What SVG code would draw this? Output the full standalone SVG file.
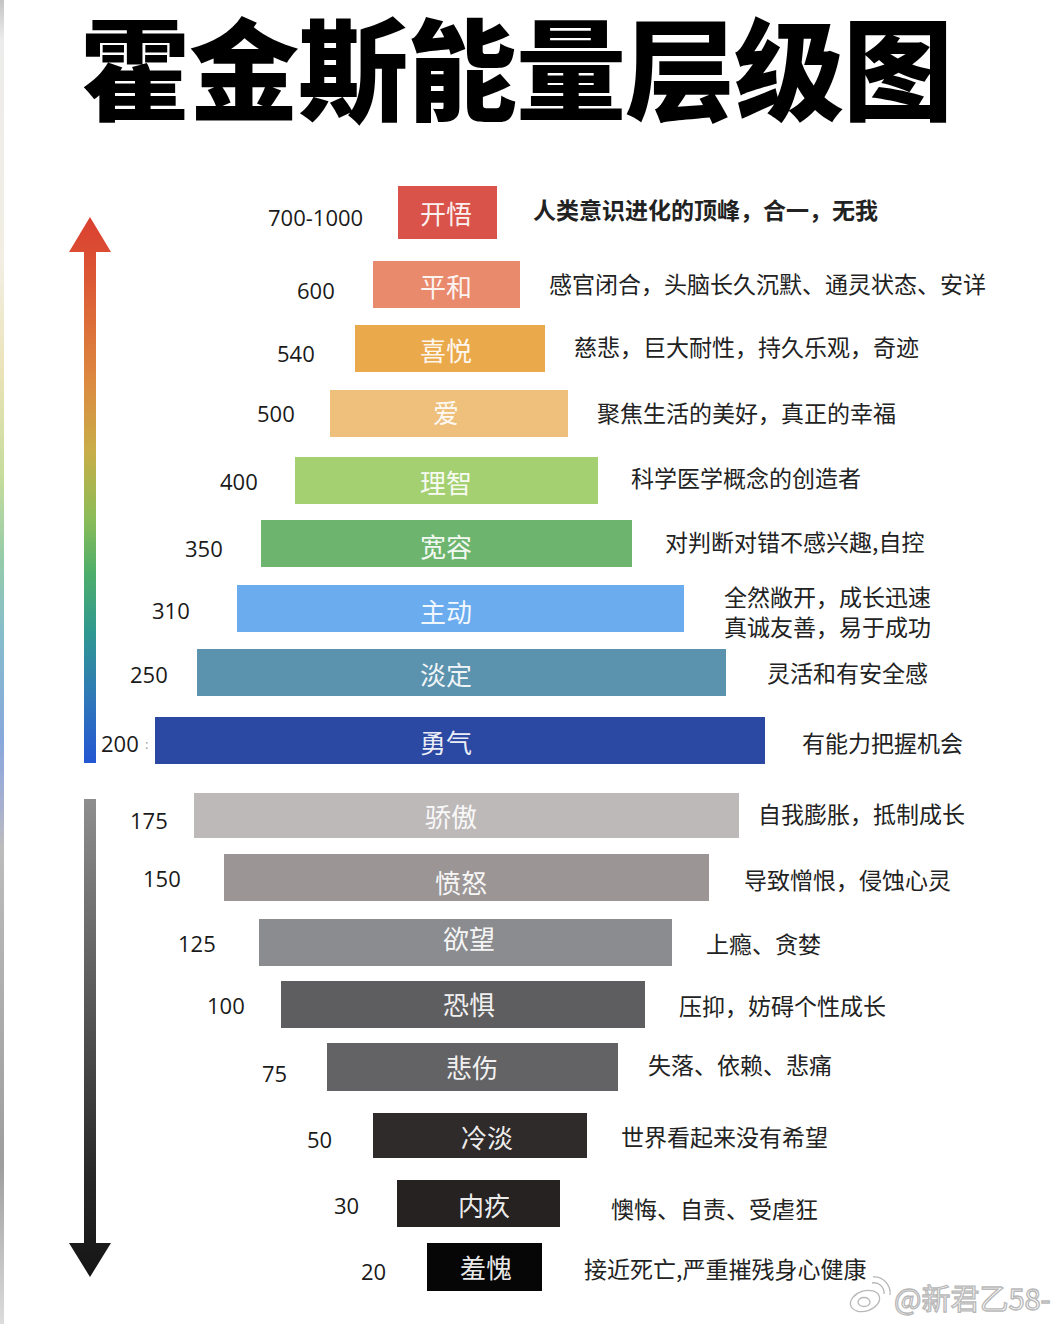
<svg xmlns="http://www.w3.org/2000/svg" width="1058" height="1324" viewBox="0 0 1058 1324">
<defs>
<linearGradient id="gUp" x1="0" y1="218" x2="0" y2="763" gradientUnits="userSpaceOnUse">
<stop offset="0" stop-color="#da3f30"/>
<stop offset="0.12" stop-color="#dc5a35"/>
<stop offset="0.3" stop-color="#dc8a40"/>
<stop offset="0.43" stop-color="#c8ae48"/>
<stop offset="0.55" stop-color="#8cbc58"/>
<stop offset="0.65" stop-color="#4fae6a"/>
<stop offset="0.76" stop-color="#2f9890"/>
<stop offset="0.88" stop-color="#2f78b8"/>
<stop offset="1" stop-color="#2456d2"/>
</linearGradient>
<linearGradient id="gDown" x1="0" y1="799" x2="0" y2="1277" gradientUnits="userSpaceOnUse">
<stop offset="0" stop-color="#8e8e8e"/>
<stop offset="0.45" stop-color="#555"/>
<stop offset="0.8" stop-color="#262626"/>
<stop offset="1" stop-color="#151515"/>
</linearGradient>
<linearGradient id="gEdge" x1="0" y1="0" x2="0" y2="1324" gradientUnits="userSpaceOnUse">
<stop offset="0" stop-color="#c4c4c4"/>
<stop offset="0.03" stop-color="#ececec"/>
<stop offset="0.2" stop-color="#f2eee2"/>
<stop offset="0.28" stop-color="#ebe3b8"/>
<stop offset="0.36" stop-color="#c6dc9c"/>
<stop offset="0.42" stop-color="#96cca8"/>
<stop offset="0.48" stop-color="#86bccc"/>
<stop offset="0.56" stop-color="#88a8dc"/>
<stop offset="0.61" stop-color="#a8b0d0"/>
<stop offset="0.64" stop-color="#bcbcbc"/>
<stop offset="0.88" stop-color="#9e9e9e"/>
<stop offset="1" stop-color="#dcdcdc"/>
</linearGradient>
<style>
.num{font-family:"Open Sans","Noto Sans",sans-serif;font-size:22px;fill:#1a1a1a}
.lbl{font-family:"Noto Sans CJK SC",sans-serif;font-size:26px;fill:#ffffff;fill-opacity:0.93;text-anchor:middle;dominant-baseline:central}
.desc{font-family:"Noto Sans CJK SC",sans-serif;font-size:23px;fill:#222;dominant-baseline:central}
.title{font-family:"Noto Sans CJK SC",sans-serif;font-size:110px;font-weight:900;fill:#000;letter-spacing:-1px}
.wm{font-family:"Noto Sans CJK SC",sans-serif;font-size:29px;fill:#fff;stroke:#b8b8b8;stroke-width:1.3;dominant-baseline:central}
</style>
</defs>
<rect width="1058" height="1324" fill="#ffffff"/>
<rect x="0" y="0" width="4" height="1324" fill="url(#gEdge)"/>
<text class="title" x="80" y="112">霍金斯能量层级图</text>

<g id="connectors">
<path id="arrow-up" d="M90,217 L111,252 L96,252 L96,763 L84,763 L84,252 L69,252 Z" fill="url(#gUp)"/>
<path id="arrow-down" d="M84,799 L96,799 L96,1243 L111,1243 L90,1277 L69,1243 L84,1243 Z" fill="url(#gDown)"/>
</g>

<g id="n-kaiwu"><rect x="398" y="186" width="99" height="53" fill="#d9534a"/><text class="lbl" x="446" y="212">开悟</text><text class="num" x="268" y="226">700-1000</text><text class="desc" x="533" y="209" font-weight="700">人类意识进化的顶峰，合一，无我</text></g>
<g id="n-pinghe"><rect x="373" y="261" width="147" height="47" fill="#e98a6c"/><text class="lbl" x="446" y="285">平和</text><text class="num" x="297" y="299">600</text><text class="desc" x="549" y="283">感官闭合，头脑长久沉默、通灵状态、安详</text></g>
<g id="n-xiyue"><rect x="355" y="325" width="190" height="47" fill="#eaa94b"/><text class="lbl" x="446" y="349">喜悦</text><text class="num" x="277" y="362">540</text><text class="desc" x="574" y="346">慈悲，巨大耐性，持久乐观，奇迹</text></g>
<g id="n-ai"><rect x="330" y="390" width="238" height="47" fill="#eec07c"/><text class="lbl" x="446" y="411">爱</text><text class="num" x="257" y="422">500</text><text class="desc" x="597" y="412">聚焦生活的美好，真正的幸福</text></g>
<g id="n-lizhi"><rect x="295" y="457" width="303" height="47" fill="#a4d072"/><text class="lbl" x="446" y="481">理智</text><text class="num" x="220" y="490">400</text><text class="desc" x="631" y="477">科学医学概念的创造者</text></g>
<g id="n-kuanrong"><rect x="261" y="520" width="371" height="47" fill="#6db56e"/><text class="lbl" x="446" y="545">宽容</text><text class="num" x="185" y="557">350</text><text class="desc" x="665" y="541">对判断对错不感兴趣,自控</text></g>
<g id="n-zhudong"><rect x="237" y="585" width="447" height="47" fill="#6aacee"/><text class="lbl" x="446" y="610">主动</text><text class="num" x="152" y="619">310</text><text class="desc" x="724" y="596">全然敞开，成长迅速<tspan x="724" dy="30">真诚友善，易于成功</tspan></text></g>
<g id="n-danding"><rect x="197" y="649" width="529" height="47" fill="#5b92ad"/><text class="lbl" x="446" y="673">淡定</text><text class="num" x="130" y="683">250</text><text class="desc" x="767" y="672">灵活和有安全感</text></g>
<g id="n-yongqi"><rect x="155" y="717" width="610" height="47" fill="#2b48a3"/><text class="lbl" x="446" y="741">勇气</text><text class="num" x="101" y="752">200</text><text x="145" y="749" font-family="Open Sans,sans-serif" font-size="13" fill="#999">:</text><text class="desc" x="802" y="742">有能力把握机会</text></g>
<g id="n-jiaoao"><rect x="194" y="793" width="545" height="45" fill="#bdb9b9"/><text class="lbl" x="451" y="815">骄傲</text><text class="num" x="130" y="829">175</text><text class="desc" x="758" y="813">自我膨胀，抵制成长</text></g>
<g id="n-fennu"><rect x="224" y="854" width="485" height="47" fill="#9b9695"/><text class="lbl" x="461" y="881">愤怒</text><text class="num" x="143" y="887">150</text><text class="desc" x="744" y="879">导致憎恨，侵蚀心灵</text></g>
<g id="n-yuwang"><rect x="259" y="919" width="413" height="47" fill="#8b8c8f"/><text class="lbl" x="469" y="937">欲望</text><text class="num" x="178" y="952">125</text><text class="desc" x="706" y="943">上瘾、贪婪</text></g>
<g id="n-kongju"><rect x="281" y="981" width="364" height="47" fill="#5e5e60"/><text class="lbl" x="469" y="1003">恐惧</text><text class="num" x="207" y="1014">100</text><text class="desc" x="679" y="1005">压抑，妨碍个性成长</text></g>
<g id="n-beishang"><rect x="327" y="1043" width="291" height="48" fill="#636365"/><text class="lbl" x="472" y="1066">悲伤</text><text class="num" x="262" y="1082">75</text><text class="desc" x="648" y="1064">失落、依赖、悲痛</text></g>
<g id="n-lengdan"><rect x="373" y="1113" width="214" height="45" fill="#2f2b2b"/><text class="lbl" x="487" y="1136">冷淡</text><text class="num" x="307" y="1148">50</text><text class="desc" x="621" y="1136">世界看起来没有希望</text></g>
<g id="n-neijiu"><rect x="397" y="1180" width="163" height="47" fill="#262222"/><text class="lbl" x="484" y="1204">内疚</text><text class="num" x="334" y="1214">30</text><text class="desc" x="611" y="1208">懊悔、自责、受虐狂</text></g>
<g id="n-xiukui"><rect x="427" y="1243" width="115" height="48" fill="#060606"/><text class="lbl" x="486" y="1266">羞愧</text><text class="num" x="361" y="1280">20</text><text class="desc" x="584" y="1268">接近死亡,严重摧残身心健康</text></g>

<g id="watermark" fill="#fff" stroke="#b8b8b8" stroke-width="1.3">
<ellipse cx="865" cy="1301" rx="15" ry="10" transform="rotate(-18 865 1301)"/>
<ellipse cx="864" cy="1302" rx="6" ry="4.5"/>
<path d="M872,1283 a10,10 0 0 1 12,11" fill="none"/>
<path d="M873,1277 a16,16 0 0 1 17,18" fill="none"/>
<text class="wm" x="894" y="1297">@新君乙58-</text>
</g>
</svg>
